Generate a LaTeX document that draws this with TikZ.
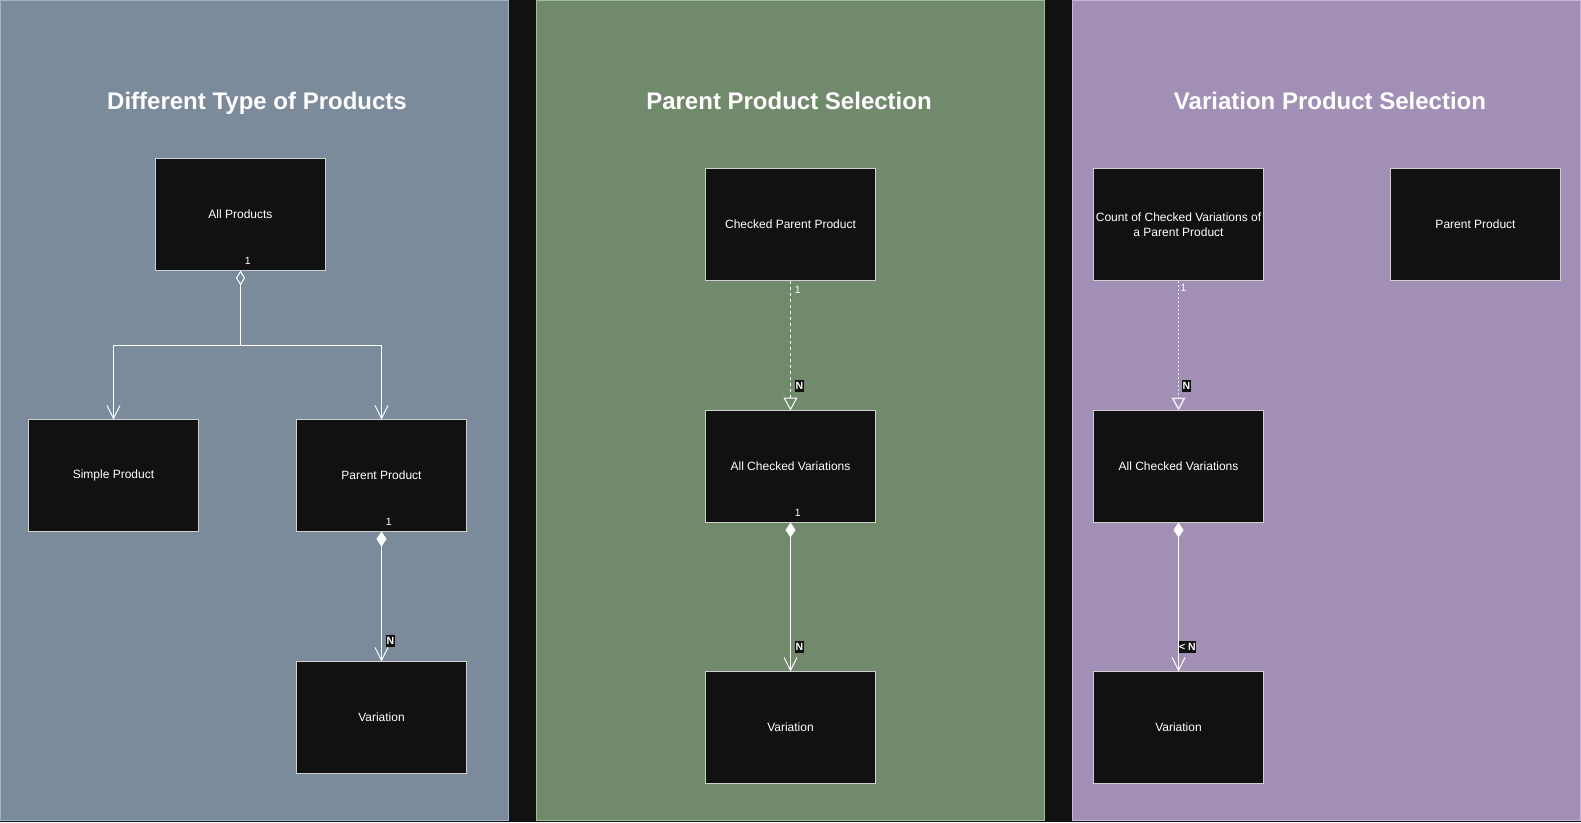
\documentclass[tikz,border=0pt]{standalone}
\usepackage{fontspec}
\setmainfont{Liberation Sans}
\usetikzlibrary{arrows.meta,positioning}
\definecolor{bg}{HTML}{111111}
\definecolor{slate}{HTML}{7B8B9B}
\definecolor{slateline}{HTML}{A3B3C6}
\definecolor{sage}{HTML}{718A6B}
\definecolor{sageline}{HTML}{A0BE92}
\definecolor{lilac}{HTML}{A18FB5}
\definecolor{lilacline}{HTML}{C8B7DB}
\definecolor{boxline}{HTML}{CFCFCF}
\definecolor{dotline}{HTML}{EEEAF3}
\begin{document}
\begin{tikzpicture}[x=1pt, y=-1pt, node distance=130pt, line width=1pt,
		box/.style = {draw=boxline, fill=bg, text=white, minimum width=170pt, minimum height=112pt, inner sep=0pt, outer sep=0pt, align=center, font=\fontsize{12}{15}\selectfont},
		title/.style = {text=white, anchor=base, font=\fontsize{24}{28}\selectfont\bfseries},
		mult/.style = {text=white, inner xsep=4.4pt, inner ysep=6pt, outer sep=0pt, font=\fontsize{10.5}{12}\selectfont},
		card/.style = {fill=bg, text=white, inner xsep=0.6pt, inner ysep=2.2pt, outer sep=0pt, font=\fontsize{10.5}{12}\selectfont\bfseries},
		link/.style = {draw=white},
		dash link/.style = {draw=white, dash pattern=on 3pt off 3pt},
		dot link/.style = {draw=dotline, line width=1.5pt, dash pattern=on 2pt off 2pt},
		odiamond/.tip = {Diamond[open, length=15pt, width=9pt]},
		fdiamond/.tip = {Diamond[length=15pt, width=10pt]},
		barb/.tip = {Straight Barb[length=13pt, width=13pt]},
		otri/.tip = {Triangle[open, length=13pt, width=14pt]}]
		\useasboundingbox (0,0) rectangle (1581,822);
		\fill[bg] (0,0) rectangle (1581,822);
		\filldraw[fill=slate, draw=slateline] (0.5,0.5) rectangle (508.5,820.5);
		\filldraw[fill=sage, draw=sageline] (536.5,0.5) rectangle (1044.5,820.5);
		\filldraw[fill=lilac, draw=lilacline] (1072.5,0.5) rectangle (1580.5,820.5);
		\node[title] (t1) at (257,109.3) {Different Type of Products};
		\node[title] (t2) at (789,109.3) {Parent Product Selection};
		\node[title] (t3) at (1330,109.3) {Variation Product Selection};
		\node[box] (all) at (240.5,214.5) {All Products};
		\node[box] (simple) at (113.5,475.5) {Simple Product};
		\node[box] (parent) [right=98pt of simple] {Parent Product};
		\node[box] (var1) [below=of parent] {Variation};
		\coordinate[below=74.5pt of all] (fork);
		\draw[link, odiamond-] (all) -- node[mult, at start, above right] {1} (fork);
		\draw[link, -barb] (fork) -| (simple);
		\draw[link, -barb] (fork) -| (parent);
		\draw[link, fdiamond-barb] (parent) -- node[mult, at start, above right] {1} node[card, at end, above right=14.5pt and 4.5pt] {N} (var1);
		\node[box] (cpp) at (790.5,224.5) {Checked Parent Product};
		\node[box] (acv) [below=of cpp] {All Checked Variations};
		\node[box] (var2) [below=149pt of acv] {Variation};
		\draw[dash link, -otri] (cpp) -- node[mult, at start, below right] {1} node[card, at end, above right=18.5pt and 4.5pt] {N} (acv);
		\draw[link, fdiamond-barb] (acv) -- node[mult, at start, above right] {1} node[card, at end, above right=18.5pt and 4.5pt] {N} (var2);
		\node[box] (count) at (1178.5,224.5) {Count of Checked Variations of\\a Parent Product};
		\node[box] (parent3) [right=127pt of count] {Parent Product};
		\node[box] (acv3) [below=of count] {All Checked Variations};
		\node[box] (var3) [below=149pt of acv3] {Variation};
		\draw[dot link, -otri] (count) -- node[mult, at start, below right, inner xsep=2.2pt, inner ysep=4.2pt] {1} node[card, at end, above right=18.5pt and 3.5pt] {N} (acv3);
		\draw[link, fdiamond-barb] (acv3) -- node[card, at end, above right=18.5pt and 0pt] {< N} (var3);
	\end{tikzpicture}
\end{document}
